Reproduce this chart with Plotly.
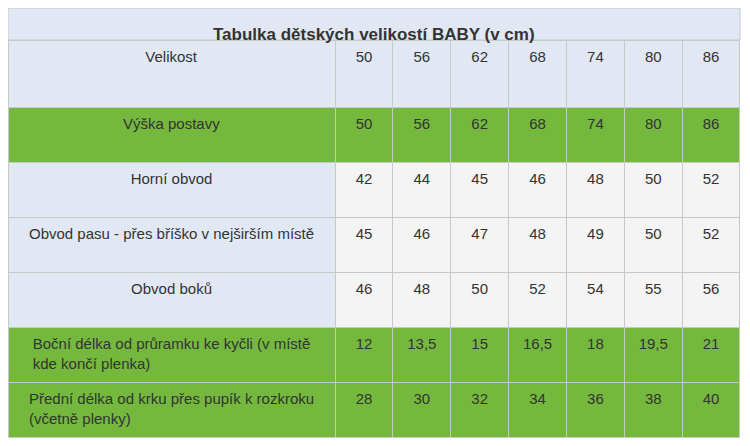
import plotly.graph_objects as go

title = "Tabulka dětských velikostí BABY (v cm)"
sizes = ["50", "56", "62", "68", "74", "80", "86"]
row_labels = ["Výška postavy", "Horní obvod", "Obvod pasu - přes bříško v nejširším místě",
              "Obvod boků", "Boční délka od průramku ke kyčli (v místě<br>kde končí plenka)",
              "Přední délka od krku přes pupík k rozkroku<br>(včetně plenky)"]
vyska = ["50", "56", "62", "68", "74", "80", "86"]
horni = ["42", "44", "45", "46", "48", "50", "52"]
pas = ["45", "46", "47", "48", "49", "50", "52"]
boky = ["46", "48", "50", "52", "54", "55", "56"]
bocni = ["12", "13,5", "15", "16,5", "18", "19,5", "21"]
predni = ["28", "30", "32", "34", "36", "38", "40"]
green_rows = [True, False, False, False, True, True]

rows = [vyska, horni, pas, boky, bocni, predni]
GREEN, BLUE, WHITE = "#74b93e", "#e1e8f4", "#f4f4f4"


def vpad(s):
    # single-line cells get a leading break to sit near the vertical middle
    return s if "<br>" in s else "<br>" + s


cols = [[vpad(s) for s in row_labels]]
for i in range(len(sizes)):
    cols.append([vpad(r[i]) if "<br>" not in row_labels[j] else r[i] + "<br>"
                 for j, r in enumerate(rows)])
# two-line rows: numbers centered between the two lines
for i in range(1, len(cols)):
    cols[i][4] = "<br>" + rows[4][i - 1]
    cols[i][5] = "<br>" + rows[5][i - 1]
fill = [[GREEN if g else BLUE for g in green_rows]] + \
       [[GREEN if g else WHITE for g in green_rows] for _ in sizes]

# page body has an 8px margin, so the figure is shifted by 8px
W, H = 734, 430
FONT = dict(family="Liberation Sans, Arial", size=15, color="#333")
fig = go.Figure(go.Table(
    domain=dict(x=[0, 732/W], y=[0, 1-32/H]),
    columnwidth=[328] + [58]*7,
    header=dict(values=[vpad(s) for s in ["Velikost"] + sizes], height=67, fill_color=BLUE,
                line_color="#c8c8c8", align="center", font=FONT),
    cells=dict(values=cols, height=55, fill_color=fill, line_color="#c8c8c8",
               align="center", font=FONT),
))
fig.add_shape(type="rect", xref="paper", yref="paper", x0=0, x1=732/W,
              y0=1-32/H, y1=1, fillcolor=BLUE, line=dict(color="#c8c8c8", width=1), layer="below")
fig.add_annotation(text="<b>" + title + "</b>", xref="paper", yref="paper", x=366/W, y=1-15/H,
                   showarrow=False, font=dict(family="Liberation Sans, Arial", size=17, color="#333"))
fig.update_layout(width=W, height=H, margin=dict(l=0, r=0, t=0, b=0),
                  paper_bgcolor="white")
fig.write_html("out.html")
